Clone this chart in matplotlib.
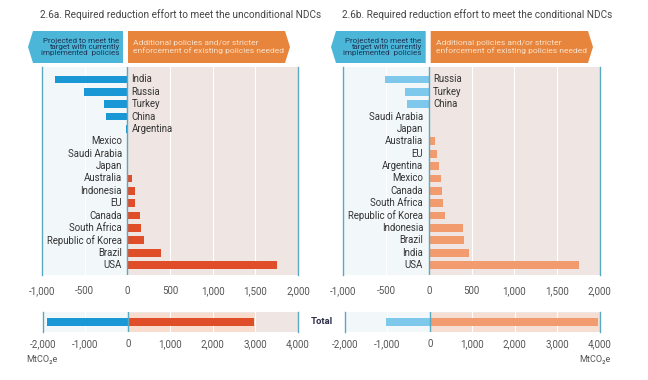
import matplotlib
matplotlib.use("Agg")
import matplotlib.pyplot as plt
from matplotlib.patches import Polygon

plt.rcParams['font.family'] = ['Roboto', 'DejaVu Sans']

# --- data (MtCO2e) ---
uncond_countries = ["India", "Russia", "Turkey", "China", "Argentina", "Mexico",
                    "Saudi Arabia", "Japan", "Australia", "Indonesia", "EU", "Canada",
                    "South Africa", "Republic of Korea", "Brazil", "USA"]
uncond_values = [-850, -505, -275, -250, -10, 2, 10, 8, 60, 90, 85, 143, 158, 193, 400, 1750]
uncond_total = [-1890, 2960]

cond_countries = ["Russia", "Turkey", "China", "Saudi Arabia", "Japan", "Australia", "EU",
                  "Argentina", "Mexico", "Canada", "South Africa", "Republic of Korea",
                  "Indonesia", "Brazil", "India", "USA"]
cond_values = [-508, -275, -250, 15, 15, 73, 97, 116, 143, 158, 170, 190, 400, 414, 470, 1760]
cond_total = [-1030, 3960]

main_ticks = [-1000, -500, 0, 500, 1000, 1500, 2000]
total_ticks = [-2000, -1000, 0, 1000, 2000, 3000, 4000]

BLUE_BG = "#f2f8fa"
BEIGE_BG = "#efe6e3"
SPINE = "#5aa9c2"
TICK_C = "#555555"
LABEL_C = "#333333"

W, H = 648, 380
fig = plt.figure(figsize=(6.48, 3.80), dpi=100)


def px_axes(x0, y0, x1, y1):
    return fig.add_axes([x0 / W, 1 - y1 / H, (x1 - x0) / W, (y1 - y0) / H])


def fmt(v):
    return f"{v:,}"


def main_panel(x0, x1, countries, values, neg_color, pos_color):
    ax = px_axes(x0, 67, x1, 275)
    ax.set_xlim(-1000, 2000)
    ax.set_ylim(15.8, -1.0)
    ax.axvspan(-1000, 0, color=BLUE_BG, zorder=0)
    ax.axvspan(0, 2000, color=BEIGE_BG, zorder=0)
    for g in [-500, 500, 1000, 1500]:
        ax.axvline(g, color="white", lw=0.8, zorder=1)
    y = list(range(len(countries)))
    colors = [neg_color if v < 0 else pos_color for v in values]
    ax.barh(y, values, height=0.62, color=colors, zorder=2)
    for yi, name, v in zip(y, countries, values):
        if v < 0:
            ax.annotate(name, (0, yi), xytext=(3, 0), textcoords="offset points",
                        ha="left", va="center", fontsize=6.9, color=LABEL_C)
        else:
            ax.annotate(name, (0, yi), xytext=(-4, 0), textcoords="offset points",
                        ha="right", va="center", fontsize=6.9, color=LABEL_C)
    ax.axvline(0, color=SPINE, lw=1.0, zorder=3)
    for s in ["top", "bottom"]:
        ax.spines[s].set_visible(False)
    for s in ["left", "right"]:
        ax.spines[s].set_color(SPINE)
        ax.spines[s].set_linewidth(1.0)
    ax.set_yticks([])
    ax.set_xticks(main_ticks)
    ax.set_xticklabels([fmt(t) for t in main_ticks])
    ax.tick_params(axis="x", length=0, pad=8, labelsize=7, labelcolor=TICK_C)
    return ax


def total_panel(x0, x1, total, neg_color, pos_color, glow):
    ax = px_axes(x0, 312, x1, 332)
    ax.set_xlim(-2000, 4000)
    ax.set_ylim(-0.5, 0.5)
    ax.axvspan(-2000, 0, color=BLUE_BG, zorder=0)
    ax.axvspan(0, 4000, color=BEIGE_BG, zorder=0)
    ax.barh([0], [total[1] + 60], height=0.95, color=glow, zorder=1)
    for g in [-1000, 1000, 2000, 3000]:
        ax.axvline(g, color="white", lw=0.8, zorder=1.5)
    ax.barh([0], [total[0]], height=0.38, color=neg_color, zorder=2)
    ax.barh([0], [total[1]], height=0.38, color=pos_color, zorder=2)
    ax.axvline(0, color=SPINE, lw=1.0, zorder=3)
    for s in ["top", "bottom"]:
        ax.spines[s].set_visible(False)
    for s in ["left", "right"]:
        ax.spines[s].set_color(SPINE)
        ax.spines[s].set_linewidth(1.0)
    ax.set_yticks([])
    ax.set_xticks(total_ticks)
    ax.set_xticklabels([fmt(t) for t in total_ticks])
    ax.tick_params(axis="x", length=0, pad=5, labelsize=7, labelcolor=TICK_C)
    return ax


main_panel(42, 298, uncond_countries, uncond_values, "#1a98d5", "#e04e29")
main_panel(343.3, 599.7, cond_countries, cond_values, "#7ec8ec", "#f29b6e")
total_panel(42.7, 297.7, uncond_total, "#1a98d5", "#e04e29", "#f8dccd")
total_panel(344.7, 599.7, cond_total, "#7ec8ec", "#f29b6e", "#f6ded3")

# overlay for banners, titles and free text (pixel coordinates)
ov = fig.add_axes([0, 0, 1, 1], zorder=10)
ov.set_xlim(0, W)
ov.set_ylim(H, 0)
ov.axis("off")

titles = ["2.6a. Required reduction effort to meet the unconditional NDCs",
          "2.6b. Required reduction effort to meet the conditional NDCs"]
left_text = "Projected to meet the\ntarget with currently\nimplemented  policies"
right_text = "Additional policies and/or stricter\nenforcement of existing policies needed"

for title, (bx0, bx1, ox0, ox1, tx) in zip(titles, [(28, 123, 128, 290, 40),
                                                   (331, 425.7, 430.7, 593, 342)]):
    ov.text(tx, 15, title, fontsize=7.2, color="#444444", va="center", ha="left")
    ov.add_patch(Polygon([(bx0, 47), (bx0 + 5, 31), (bx1, 31), (bx1, 63), (bx0 + 5, 63)],
                         closed=True, color="#4bb6d7", lw=0))
    ov.add_patch(Polygon([(ox0, 31), (ox1 - 5, 31), (ox1, 47), (ox1 - 5, 63), (ox0, 63)],
                         closed=True, color="#e8853c", lw=0))
    ov.text(bx1 - 4, 47, left_text, fontsize=5.8, color="#1d3557", ha="right", va="center",
            linespacing=1.05)
    ov.text(ox0 + 5, 47, right_text, fontsize=6.1, color="#fbe0c8", ha="left", va="center",
            linespacing=1.15)

ov.text(322, 322, "Total", fontsize=6.8, fontweight="bold", color="#2b2f4a",
        ha="center", va="center")
ov.text(26, 359, "MtCO₂e", fontsize=6.6, color=TICK_C, ha="left", va="center")
ov.text(611, 359, "MtCO₂e", fontsize=6.6, color=TICK_C, ha="right", va="center")

fig.savefig("out.png", dpi=100, facecolor="white")
